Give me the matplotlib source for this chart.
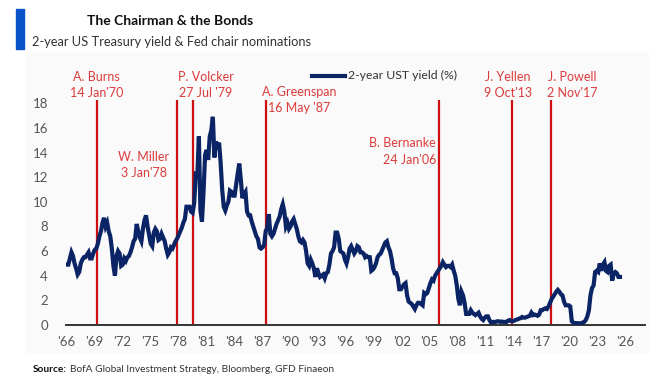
"""
The Chairman & the Bonds: 2-year UST yield with Fed chair nominations.
"""

import matplotlib.pyplot as plt
from matplotlib.patches import Rectangle
import numpy as np

# 2-year UST yield (%), read every two months starting Jan 1966
first_year = 1966
ust2y = [
    4.9, 4.9, 5.4, 5.9, 5.6, 5.0,   # 1966
    4.6, 4.1, 4.3, 5.0, 5.3, 5.5,   # 1967
    5.5, 5.7, 5.9, 5.4, 5.4, 5.8,   # 1968
    6.1, 6.2, 6.6, 7.2, 7.6, 8.3,   # 1969
    8.7, 8.0, 8.3, 7.6, 7.2, 6.2,   # 1970
    4.8, 4.0, 5.6, 6.0, 5.8, 4.8,   # 1971
    4.9, 5.4, 5.2, 5.5, 5.6, 5.9,   # 1972
    6.3, 6.8, 7.0, 8.2, 7.6, 7.1,   # 1973
    6.8, 7.8, 8.5, 8.9, 8.0, 7.3,   # 1974
    6.6, 6.4, 7.5, 7.8, 7.6, 6.9,   # 1975
    7.0, 7.4, 7.1, 6.8, 6.2, 5.7,   # 1976
    5.9, 6.3, 6.2, 6.5, 6.8, 7.0,   # 1977
    7.3, 7.6, 7.9, 8.3, 8.6, 9.6,   # 1978
    9.6, 9.6, 9.2, 9.1, 9.9, 12.2,  # 1979
    12.1, 15.3, 9.3, 8.4, 10.8, 13.8,  # 1980
    14.2, 13.4, 15.3, 15.8, 16.9, 13.6,  # 1981
    14.9, 14.3, 14.8, 13.2, 11.0, 9.6,   # 1982
    9.3, 9.7, 10.0, 10.9, 10.8, 10.5,    # 1983
    10.5, 11.4, 12.3, 13.1, 11.8, 10.3,  # 1984
    10.6, 10.8, 9.2, 8.9, 8.9, 8.4,   # 1985
    8.0, 7.6, 7.2, 7.0, 6.3, 6.2,   # 1986
    6.3, 6.5, 7.6, 7.9, 9.0, 7.4,   # 1987
    7.2, 7.4, 7.8, 8.2, 8.5, 8.8,   # 1988
    9.4, 9.8, 9.2, 8.0, 8.3, 7.8,   # 1989
    8.0, 8.4, 8.6, 8.2, 7.8, 7.2,   # 1990
    6.8, 6.7, 6.9, 6.7, 6.0, 5.0,   # 1991
    4.8, 5.3, 5.0, 4.6, 3.9, 4.6,   # 1992
    4.2, 3.9, 4.0, 4.1, 3.8, 4.2,   # 1993
    4.3, 4.9, 5.8, 6.0, 6.3, 7.5,   # 1994
    7.5, 7.0, 6.0, 5.9, 5.8, 5.3,   # 1995
    5.0, 5.5, 6.2, 6.4, 6.1, 5.8,   # 1996
    6.0, 6.4, 6.3, 5.9, 5.9, 5.8,   # 1997
    5.5, 5.6, 5.5, 5.5, 4.4, 4.5,   # 1998
    4.7, 5.0, 5.5, 5.7, 5.8, 6.1,   # 1999
    6.4, 6.7, 6.8, 6.3, 6.0, 5.4,   # 2000
    4.6, 4.2, 4.2, 3.8, 2.9, 2.9,   # 2001
    3.1, 3.3, 3.4, 2.4, 1.9, 1.8,   # 2002
    1.7, 1.5, 1.3, 1.6, 1.8, 1.8,   # 2003
    1.7, 1.6, 2.6, 2.5, 2.6, 3.0,   # 2004
    3.4, 3.7, 3.6, 4.0, 4.2, 4.4,   # 2005
    4.6, 4.8, 5.1, 4.9, 4.7, 4.8,   # 2006
    4.8, 4.7, 4.9, 4.4, 4.0, 3.2,   # 2007
    2.1, 1.6, 2.7, 2.4, 1.8, 0.9,   # 2008
    0.9, 0.9, 1.2, 1.0, 0.9, 0.8,   # 2009
    0.9, 1.0, 0.7, 0.5, 0.4, 0.6,   # 2010
    0.7, 0.7, 0.4, 0.2, 0.25, 0.25,  # 2011
    0.25, 0.3, 0.3, 0.25, 0.28, 0.25,  # 2012
    0.25, 0.25, 0.35, 0.4, 0.33, 0.32,  # 2013
    0.35, 0.42, 0.45, 0.52, 0.55, 0.65,  # 2014
    0.6, 0.6, 0.65, 0.7, 0.75, 1.0,   # 2015
    0.8, 0.85, 0.8, 0.75, 0.85, 1.2,  # 2016
    1.2, 1.3, 1.35, 1.3, 1.5, 1.8,    # 2017
    2.1, 2.3, 2.5, 2.7, 2.85, 2.7,    # 2018
    2.5, 2.4, 1.9, 1.6, 1.6, 1.6,     # 2019
    1.5, 0.3, 0.2, 0.15, 0.15, 0.15,  # 2020
    0.12, 0.15, 0.2, 0.25, 0.4, 0.7,  # 2021
    1.2, 2.4, 3.0, 3.2, 4.3, 4.4,     # 2022
    4.3, 5.0, 4.4, 4.9, 5.1, 4.4,     # 2023
    4.3, 4.8, 4.9, 3.6, 4.2, 4.3,     # 2024
    4.2, 3.9, 3.9,                    # 2025
]

# Fed chair nominations
chairs = ["A. Burns", "W. Miller", "P. Volcker", "A. Greenspan",
          "B. Bernanke", "J. Yellen", "J. Powell"]
chair_dates = ["14 Jan'70", "3 Jan'78", "27 Jul '79", "16 May '87",
               "24 Jan'06", "9 Oct'13", "2 Nov'17"]
chair_x = [1969.35, 1977.9, 1979.6, 1987.45, 2006.05, 2013.8, 2018.0]

y_ticks = [0, 2, 4, 6, 8, 10, 12, 14, 16, 18]
x_tick_years = list(range(1966, 2027, 3))

NAVY = "#0B2466"
RED = "#CC0F0F"
RED_TEXT = "#DC3B3B"
GREY = "#555555"

plt.rcParams["font.family"] = ["Lato", "DejaVu Sans"]

fig = plt.figure(figsize=(6.58, 3.79), dpi=100)
W, H = 658, 379


def fx(px):
    return px / W


def fy(py):
    return 1 - py / H


# faint panel behind the chart
fig.patches.append(Rectangle((fx(26), fy(352)), fx(622), (352 - 52) / H,
                             transform=fig.transFigure, color="#FAFAFA", zorder=-5))

ax = fig.add_axes([fx(66), fy(325), fx(645 - 66), fy(98.3) - fy(325)])
ax.set_facecolor("none")
ax.set_xlim(1966, 2028.1)
ax.set_ylim(0, 18.4)

t = first_year + np.arange(len(ust2y)) / 6 + 1 / 12
ax.plot(t, ust2y, color=NAVY, lw=3.0, solid_joinstyle="miter",
        label="2-year UST yield (%)", zorder=3)

ax.vlines(chair_x, 0, 18.26, color=RED, lw=1.6, zorder=2)

# label placement (pixels): x anchor, first line y, alignment
label_pos = [(96.7, 76.7, "center"), (144, 156.7, "center"), (205.5, 76.7, "center"),
             (299.5, 91.7, "center"), (436, 143.3, "right"), (508, 76.7, "center"),
             (572, 76.7, "center")]
for name, date, (px, py, ha) in zip(chairs, chair_dates, label_pos):
    fig.text(fx(px), fy(py), name, color=RED_TEXT, fontsize=9, ha=ha, va="center")
    fig.text(fx(px), fy(py + 16.5), date, color=RED_TEXT, fontsize=9, ha=ha,
             va="center")

for side in ["top", "right", "left"]:
    ax.spines[side].set_visible(False)
ax.spines["bottom"].set_color("#333333")
ax.spines["bottom"].set_linewidth(1.4)

ax.set_yticks(y_ticks)
ax.set_xticks(x_tick_years)
ax.set_xticklabels([f"'{y % 100:02d}" for y in x_tick_years])
ax.tick_params(length=0, labelsize=9.5, colors=GREY)
ax.tick_params(axis="y", pad=13)
ax.tick_params(axis="x", pad=8)

# legend drawn by hand at the top
fig.lines.append(plt.Line2D([fx(312), fx(345)], [fy(75.7), fy(75.7)],
                            transform=fig.transFigure, color=NAVY, lw=3.0))
fig.text(fx(348), fy(75.7), "2-year UST yield (%)", color="#333333",
         fontsize=8.8, va="center")

# title block
fig.patches.append(Rectangle((fx(16), fy(49)), fx(8), fy(9) - fy(49),
                             transform=fig.transFigure, color="#0A52C8"))
fig.text(fx(170), fy(21), "The Chairman & the Bonds", fontsize=10,
         fontweight="bold", ha="center", va="center", color="#111111")
fig.text(fx(32), fy(42), "2-year US Treasury yield & Fed chair nominations",
         fontsize=9.3, ha="left", va="center", color="#333333")

fig.text(fx(33), fy(370), "Source:", fontsize=7.3, fontweight="bold",
         va="center", color="#111111")
fig.text(fx(70), fy(370), "BofA Global Investment Strategy, Bloomberg, GFD Finaeon",
         fontsize=7.3, va="center", color="#333333")

fig.savefig("out.png", dpi=100)
